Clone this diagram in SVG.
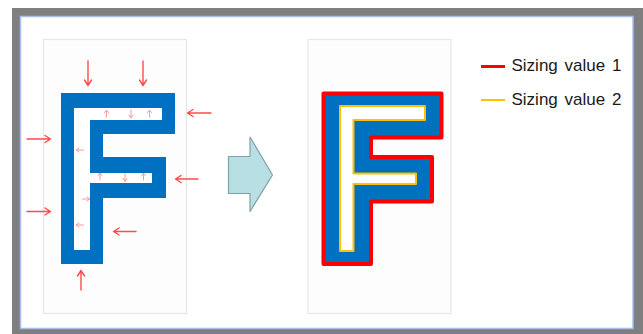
<svg xmlns="http://www.w3.org/2000/svg" width="643" height="334" viewBox="0 0 643 334">
<defs>
<style>
.panel{fill:#fdfdfd;stroke:#e6e6e6;stroke-width:1.2}
.arr{fill:none;stroke:#ff4b4b;stroke-width:1.4;stroke-linecap:round;stroke-linejoin:round}
.sm{fill:none;stroke:#ff9a9a;stroke-width:1;stroke-linecap:round;stroke-linejoin:round}
.lbl{font-family:"Liberation Sans",Arial,sans-serif;font-size:17px;fill:#1a1a1a;word-spacing:2px}
</style>
</defs>
<rect x="0" y="0" width="643" height="334" fill="#ffffff"/>
<rect x="12" y="8" width="631" height="326" fill="#7f7f7f"/>
<rect x="20.5" y="16.5" width="612.5" height="312" fill="#ffffff" stroke="#a8c0ea" stroke-width="1.5"/>

<g id="panel-left">
<rect class="panel" x="43.5" y="39.5" width="143" height="274"/>
</g>
<g id="panel-right">
<rect class="panel" x="308" y="39.5" width="143" height="274"/>
</g>

<g id="f-left">
<path d="M61,93 H175 V134 H103 V157 H166 V198 H103 V264 H61 Z" fill="#0070c0"/>
<path d="M74,108 H162 V120 H90 V173 H152 V183 H90 V250 H74 Z" fill="#ffffff"/>
</g>

<g id="connectors">
<!-- outer red arrows -->
<path class="arr" d="M88,61 V85 M84.5,80 L88,85.5 L91.5,80"/>
<path class="arr" d="M143,61 V85 M139.5,80 L143,85.5 L146.5,80"/>
<path class="arr" d="M211,113 H188 M193,109.5 L187.5,113 L193,116.5"/>
<path class="arr" d="M27,139 H50 M45,135.5 L50.5,139 L45,142.5"/>
<path class="arr" d="M27,211.5 H50 M45,208 L50.5,211.5 L45,215"/>
<path class="arr" d="M198,179 H176 M181,175.5 L175.5,179 L181,182.5"/>
<path class="arr" d="M136,231.5 H114 M119,228 L113.5,231.5 L119,235"/>
<path class="arr" d="M81,290 V271 M77.5,276 L81,270.5 L84.5,276"/>
<!-- small inner arrows -->
<path class="sm" d="M106.5,117 V110.5 M104.5,112.5 L106.5,110 L108.5,112.5"/>
<path class="sm" d="M131,110 V117.5 M129,115 L131,118 L133,115"/>
<path class="sm" d="M149.5,117 V110.5 M147.5,112.5 L149.5,110 L151.5,112.5"/>
<path class="sm" d="M100,180 V173.5 M98,175.5 L100,173 L102,175.5"/>
<path class="sm" d="M125,173.5 V181 M123,178.5 L125,181.5 L127,178.5"/>
<path class="sm" d="M143.5,180 V173.5 M141.5,175.5 L143.5,173 L145.5,175.5"/>
<path class="sm" d="M83.5,150 H76.5 M79,148 L76,150 L79,152"/>
<path class="sm" d="M82.5,199 H89.5 M87,197 L90,199 L87,201"/>
<path class="sm" d="M83.5,225 H76.5 M79,223 L76,225 L79,227"/>
</g>

<g id="block-arrow">
<path d="M228.5,156.5 H250 V137 L272.5,175 L250,211.5 V193.5 H228.5 Z" fill="#b8dfe3" stroke="#7fa3a8" stroke-width="1.2" stroke-linejoin="round"/>
</g>

<g id="f-right">
<path d="M323.5,93.5 H441.5 V137.5 H371 V157 H432 V201.5 H371 V264 H323.5 Z" fill="#0070c0" stroke="#ff0000" stroke-width="4" stroke-linejoin="round"/>
<path d="M340,106 H425 V120 H353.5 V173.5 H416 V184 H353.5 V251 H340 Z" fill="#ffffff" stroke="#ffc000" stroke-width="2" stroke-linejoin="round"/>
</g>

<g id="legend">
<line x1="481" y1="66.5" x2="505" y2="66.5" stroke="#ff0000" stroke-width="3"/>
<text class="lbl" x="511.5" y="70.5">Sizing value 1</text>
<line x1="481" y1="100" x2="505" y2="100" stroke="#ffc000" stroke-width="2"/>
<text class="lbl" x="511.5" y="104.5">Sizing value 2</text>
</g>
</svg>
